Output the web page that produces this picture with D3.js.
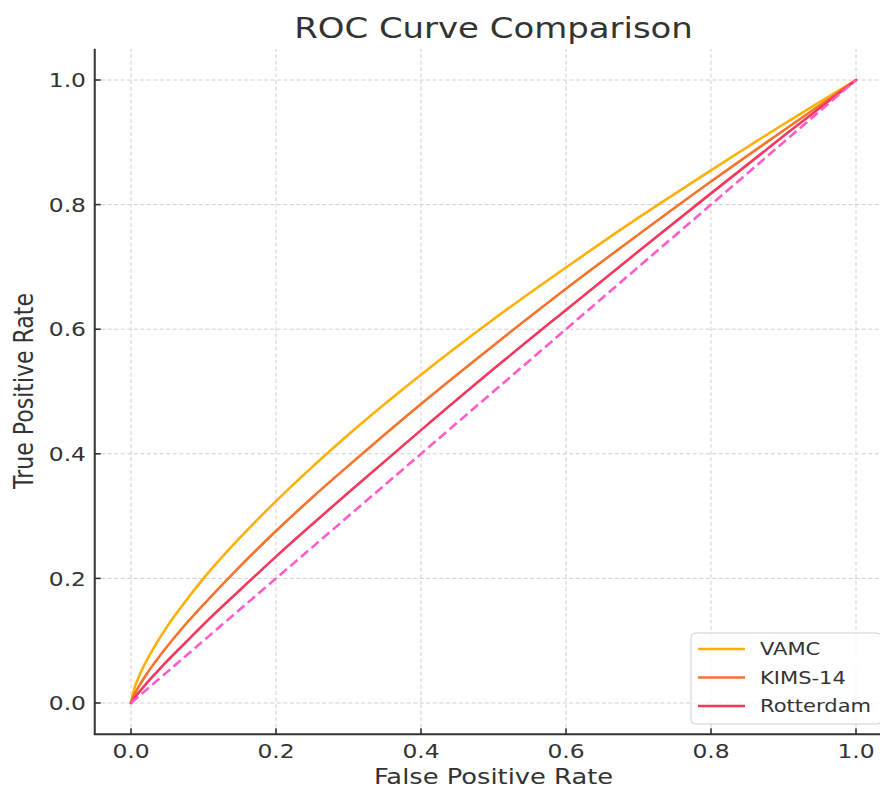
<!DOCTYPE html>
<html>
<head>
<meta charset="utf-8">
<script src="https://cdn.jsdelivr.net/npm/d3@7"></script>
<style>
  html, body { margin: 0; padding: 0; background: #fff; }
  text { font-family: "DejaVu Sans", sans-serif; fill: #333; }
</style>
</head>
<body>
<svg id="chart" width="880" height="789"></svg>
<script>
// ---- data ----
const fpr = [0, 0.005, 0.01, 0.02, 0.035, 0.05, 0.075, 0.1, 0.15, 0.2, 0.25, 0.3, 0.4, 0.5, 0.6, 0.7, 0.8, 0.9, 1.0];
const tprVAMC = [0, 0.0245, 0.0398, 0.0646, 0.0956, 0.123, 0.163, 0.200, 0.265, 0.324, 0.379, 0.431, 0.527, 0.616, 0.699, 0.779, 0.855, 0.929, 1.0];
const tprKIMS = [0, 0.0144, 0.0251, 0.0438, 0.0683, 0.0910, 0.126, 0.158, 0.219, 0.276, 0.330, 0.381, 0.480, 0.574, 0.665, 0.752, 0.837, 0.919, 1.0];
const tprRotterdam = [0, 0.0085, 0.0158, 0.0296, 0.0489, 0.0675, 0.0967, 0.126, 0.181, 0.235, 0.287, 0.338, 0.438, 0.536, 0.631, 0.725, 0.818, 0.910, 1.0];
const diagX = [0, 1];
const diagY = [0, 1];
const seriesNames = ["VAMC", "KIMS-14", "Rotterdam"];
const seriesColors = ["#FFB000", "#F7722A", "#F4375C"];
const diagColor = "#FF5CC8";
const tickValues = [0.0, 0.2, 0.4, 0.6, 0.8, 1.0];
const titleText = "ROC Curve Comparison";
const xLabel = "False Positive Rate";
const yLabel = "True Positive Rate";

// ---- layout ----
const SX = 1.17; // horizontal text stretch seen in the reference
const svg = d3.select("#chart");
const x = d3.scaleLinear().domain([-0.05, 1.05]).range([94.75, 892.25]);
const y = d3.scaleLinear().domain([-0.05, 1.05]).range([734.15, 48.85]);

// grid
const grid = svg.append("g");
tickValues.forEach(t => {
  grid.append("line").attr("x1", x(t)).attr("x2", x(t)).attr("y1", y(-0.05)).attr("y2", y(1.05))
    .attr("stroke", "#cfcfcf").attr("stroke-width", 1).attr("stroke-dasharray", "4,2.5");
  grid.append("line").attr("x1", x(-0.05)).attr("x2", x(1.05)).attr("y1", y(t)).attr("y2", y(t))
    .attr("stroke", "#cfcfcf").attr("stroke-width", 1).attr("stroke-dasharray", "4,2.5");
});

// curves
const allY = [tprVAMC, tprKIMS, tprRotterdam];
const line = d3.line().x(d => x(d[0])).y(d => y(d[1])).curve(d3.curveMonotoneX);
allY.forEach((ys, i) => {
  svg.append("path")
    .datum(fpr.map((v, k) => [v, ys[k]]))
    .attr("d", line)
    .attr("fill", "none")
    .attr("stroke", seriesColors[i])
    .attr("stroke-width", 2.6)
    .attr("stroke-linecap", "round");
});
svg.append("path")
  .datum(diagX.map((v, k) => [v, diagY[k]]))
  .attr("d", d3.line().x(d => x(d[0])).y(d => y(d[1])))
  .attr("fill", "none")
  .attr("stroke", diagColor)
  .attr("stroke-width", 2.6)
  .attr("stroke-dasharray", "9.5,4.5");

// spines (left, bottom)
svg.append("line").attr("x1", x(-0.05)).attr("x2", x(-0.05)).attr("y1", y(1.05)).attr("y2", y(-0.05))
  .attr("stroke", "#333").attr("stroke-width", 2);
svg.append("line").attr("x1", x(-0.05) - 1).attr("x2", x(1.05)).attr("y1", y(-0.05)).attr("y2", y(-0.05))
  .attr("stroke", "#333").attr("stroke-width", 2);

// ticks (inward)
tickValues.forEach(t => {
  svg.append("line").attr("x1", x(t)).attr("x2", x(t)).attr("y1", y(-0.05)).attr("y2", y(-0.05) - 6)
    .attr("stroke", "#333").attr("stroke-width", 1.6);
  svg.append("line").attr("x1", x(-0.05)).attr("x2", x(-0.05) + 6).attr("y1", y(t)).attr("y2", y(t))
    .attr("stroke", "#333").attr("stroke-width", 1.6);
});

function stext(px, py, str, size, anchor, dy, rot) {
  const g = svg.append("g").attr("transform", `translate(${px},${py}) scale(${SX},1)` + (rot ? ` rotate(${rot})` : ""));
  g.append("text").attr("x", 0).attr("y", 0).attr("dy", dy || 0)
    .attr("text-anchor", anchor).style("font-size", size + "px").text(str);
  return g;
}
const fmt = d3.format(".1f");
tickValues.forEach(t => {
  stext(x(t), 744, fmt(t), 20, "middle", "0.72em");
  stext(86, y(t), fmt(t), 20, "end", "0.36em");
});

// title and labels
stext(493.5, 38, titleText, 29, "middle", 0);
stext(493.5, 783.5, xLabel, 22, "middle", 0);
stext(33, 391, yLabel, 22, "middle", 0, -90);

// legend
const lg = svg.append("g");
lg.append("rect").attr("x", 691).attr("y", 633).attr("width", 190).attr("height", 91)
  .attr("rx", 4).attr("fill", "#fff").attr("fill-opacity", 0.8)
  .attr("stroke", "#d0d0d0").attr("stroke-width", 1);
const rowY = [649, 677.5, 706];
seriesNames.forEach((n, i) => {
  lg.append("line").attr("x1", 698).attr("x2", 745).attr("y1", rowY[i]).attr("y2", rowY[i])
    .attr("stroke", seriesColors[i]).attr("stroke-width", 2.6);
  stext(760, rowY[i], n, 18, "start", "0.36em");
});
</script>
</body>
</html>
